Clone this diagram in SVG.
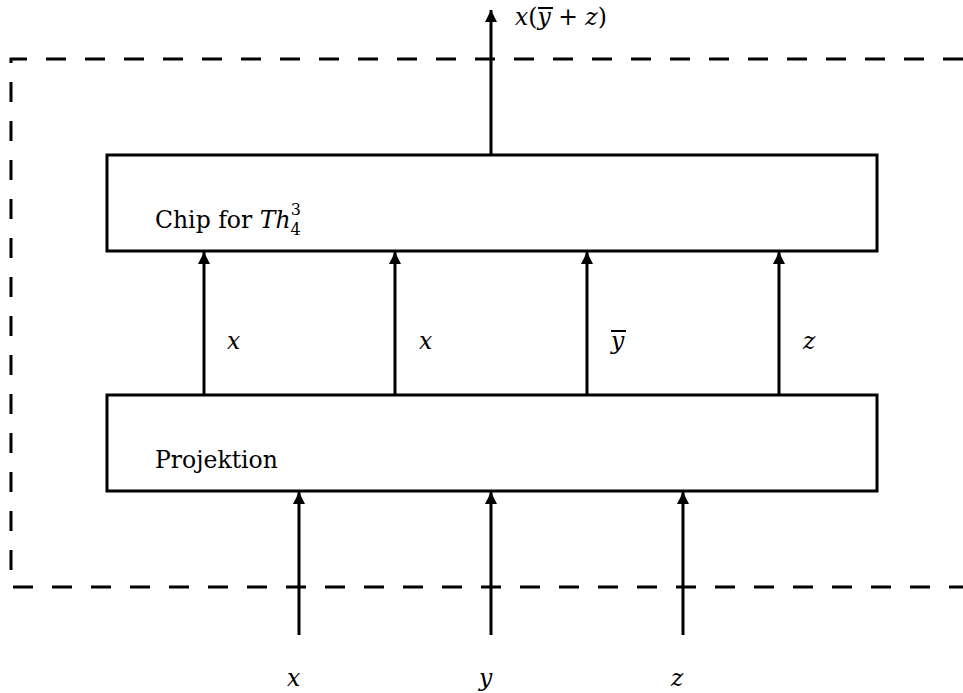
<svg xmlns="http://www.w3.org/2000/svg" width="963" height="693" viewBox="0 0 963 693">
<style>
.box{fill:none;stroke:#000;stroke-width:3}
.ln{stroke:#000;stroke-width:3;fill:none}
.dash{stroke:#000;stroke-width:3;fill:none;stroke-dasharray:20 19}
.t{font-family:'DejaVu Serif',serif;font-size:23.5px;fill:#000}
.m{font-style:italic}
</style>
<defs>
<marker id="ah" viewBox="0 0 12 15" refX="12" refY="7.5" markerWidth="12" markerHeight="15" markerUnits="userSpaceOnUse" orient="auto">
<path d="M0,1.5 L12,7.5 L0,13.5 Z" fill="#000"/>
</marker>
</defs>
<g id="frame">
<path class="dash" d="M963,59 H11 V587 H963"/>
</g>
<g id="chip">
<rect class="box" x="107" y="155" width="770" height="96"/>
<text class="t" x="155" y="228">Chip for <tspan class="m">Th</tspan><tspan font-size="16" dy="7">4</tspan><tspan font-size="16" dx="-10" dy="-20">3</tspan></text>
</g>
<g id="projektion">
<rect class="box" x="107" y="395" width="770" height="96"/>
<text class="t" x="155" y="468">Projektion</text>
</g>
<g id="connectors">
<line class="ln" x1="491" y1="155" x2="491" y2="10" marker-end="url(#ah)"/>
<line class="ln" x1="204" y1="395" x2="204" y2="252" marker-end="url(#ah)"/>
<line class="ln" x1="395" y1="395" x2="395" y2="252" marker-end="url(#ah)"/>
<line class="ln" x1="587" y1="395" x2="587" y2="252" marker-end="url(#ah)"/>
<line class="ln" x1="779" y1="395" x2="779" y2="252" marker-end="url(#ah)"/>
<line class="ln" x1="299" y1="635" x2="299" y2="492" marker-end="url(#ah)"/>
<line class="ln" x1="491" y1="635" x2="491" y2="492" marker-end="url(#ah)"/>
<line class="ln" x1="683" y1="635" x2="683" y2="492" marker-end="url(#ah)"/>
</g>
<g id="labels">
<text class="t" x="515" y="25"><tspan class="m">x</tspan>(<tspan class="m">y</tspan> + <tspan class="m">z</tspan>)</text>
<line x1="538" y1="8" x2="553" y2="8" stroke="#000" stroke-width="2"/>
<text class="t m" x="227" y="349">x</text>
<text class="t m" x="419" y="349">x</text>
<text class="t m" x="611" y="349">y</text>
<line x1="611" y1="331" x2="626" y2="331" stroke="#000" stroke-width="2"/>
<text class="t m" x="803" y="349">z</text>
<text class="t m" x="287" y="686">x</text>
<text class="t m" x="479" y="686">y</text>
<text class="t m" x="671" y="686">z</text>
</g>
</svg>
